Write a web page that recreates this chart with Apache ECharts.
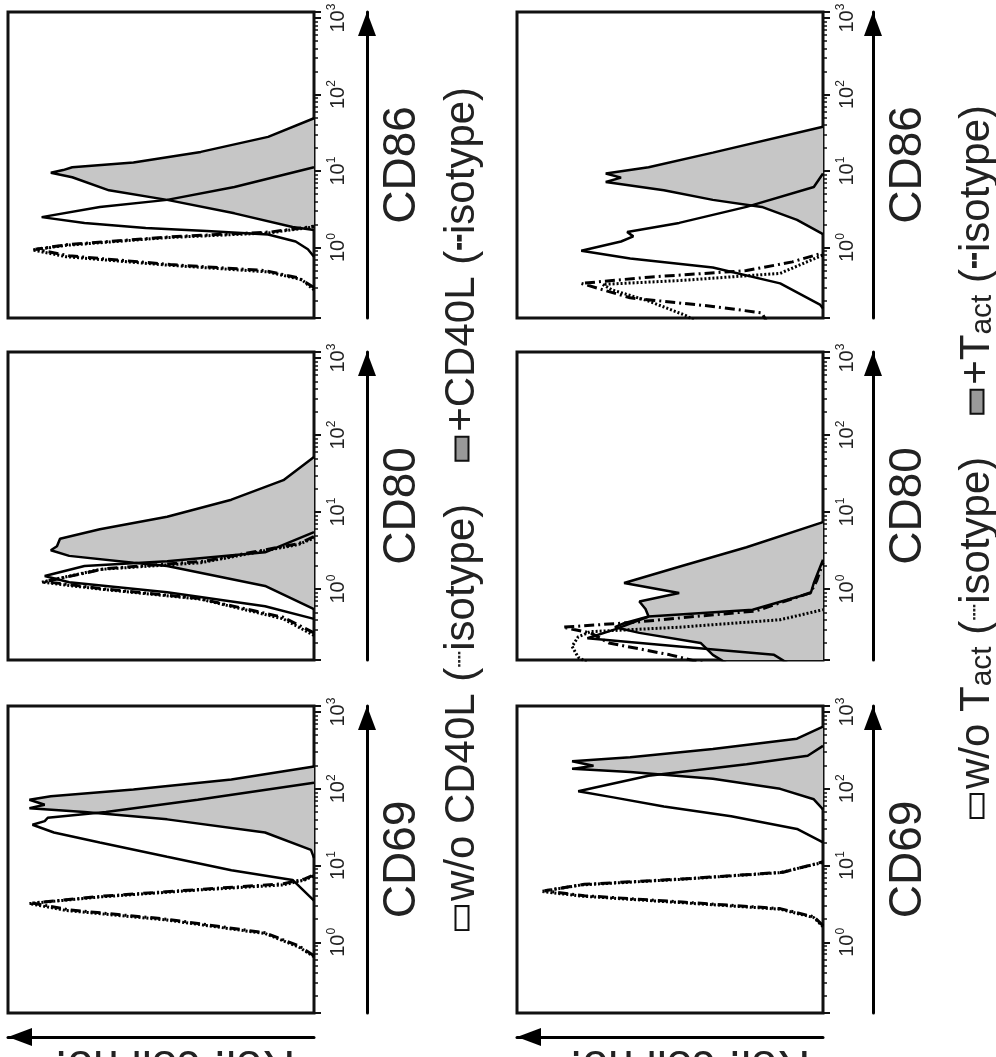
<!DOCTYPE html>
<html>
<head>
<meta charset="utf-8">
<script src="https://cdn.jsdelivr.net/npm/echarts@6/dist/echarts.min.js"></script>
<style>
html,body{margin:0;padding:0;background:#fff;}
#chart{width:996px;height:1057px;}
</style>
</head>
<body>
<div id="chart"></div>
<script>
// ---------------- DATA ----------------
const markers = ['CD86', 'CD80', 'CD69'];
const fluorMin = 0.12;
const fluorMax = 1200;
const tickExponents = [0, 1, 2, 3];
const countMax = 100;
const countAxisName = 'Rel. cell no.';

// Each histogram: [fluorescence intensity, relative cell number]
const cd86_woCD40L      = [[0.76,0],[0.95,2],[1.2,6],[1.48,15],[1.65,35],[1.8,55],[2.1,75],[2.5,89],[3.4,70],[4.2,48],[6.2,26],[11.2,0]];
const cd86_CD40L        = [[1.7,0],[1.86,7],[2.8,26],[4.2,48],[5.6,67],[8.3,79],[9.5,86],[10.3,82],[11.2,79],[12.9,59],[17.8,37],[28,15],[49,0]];
const cd86_isoWoCD40L   = [[0.28,0],[0.38,4],[0.48,15],[0.59,48],[0.76,81],[0.93,92],[1.07,81],[1.35,48],[1.55,15],[1.86,0]];
const cd86_isoCD40L     = [[0.3,0],[0.4,5],[0.5,16],[0.6,47],[0.78,80],[0.95,91],[1.1,80],[1.38,47],[1.6,14],[1.9,0]];

const cd80_woCD40L      = [[0.41,0],[0.6,16],[0.91,48],[1.23,80],[1.48,88],[2.0,75],[2.3,48],[3.0,16],[5.5,0]];
const cd80_CD40L        = [[0.55,0],[1.1,16],[2.0,48],[2.2,59],[2.7,80],[3.2,86],[3.6,84],[4.5,83],[6.0,70],[8.7,48],[14.5,27],[26,10],[52,0]];
const cd80_isoWoCD40L   = [[0.25,0],[0.41,10],[0.74,37],[1.0,70],[1.23,89],[1.8,70],[2.2,37],[3.8,5],[4.6,0]];
const cd80_isoCD40L     = [[0.27,0],[0.43,10],[0.76,38],[1.02,70],[1.25,88],[1.85,68],[2.3,36],[3.9,5],[4.8,0]];

const cd69_woCD40L      = [[3.5,0],[6.5,7],[8.7,27],[13,48],[20,70],[27,85],[34,92],[38,88],[42,87],[50,68],[72,38],[120,0]];
const cd69_CD40L        = [[12.6,0],[16,1],[27,16],[40,48],[50,75],[56,93],[62,88],[72,93],[80,86],[98,59],[132,27],[195,0]];
const cd69_isoWoCD40L   = [[0.65,0],[0.87,5],[1.3,16],[1.95,48],[2.6,81],[3.2,93],[3.9,70],[4.8,38],[5.6,10],[6.5,3],[7.4,0]];
const cd69_isoCD40L     = [[0.67,0],[0.9,5],[1.33,16],[2.0,48],[2.65,80],[3.25,92],[4.0,69],[4.9,37],[5.8,10],[6.7,3],[7.6,0]];

const cd86_woTact       = [[0.16,0],[0.18,1],[0.34,14],[0.55,36],[0.72,63],[0.91,79],[1.2,66],[1.4,62],[1.6,64],[2.1,47],[3.4,25],[6.2,3],[9.3,0]];
const cd86_Tact         = [[1.5,0],[2.3,8.5],[3.4,20],[4.2,36],[5.6,52],[7.2,71],[8.2,66],[9.3,71],[11.2,57],[17.4,36],[38,0]];
const cd86_isoWoTact    = [[0.1,40],[0.13,45],[0.2,57],[0.28,69],[0.33,72],[0.37,47],[0.46,14],[0.8,0]];
const cd86_isoTact      = [[0.1,18],[0.14,20],[0.17,36],[0.22,63],[0.34,79],[0.41,57],[0.5,25],[0.65,10],[0.83,1],[0.85,0]];

const cd80_woTact       = [[0.1,10],[0.14,16],[0.18,47],[0.23,77],[0.3,68],[0.44,57],[0.54,23],[0.89,4],[1.2,3],[2.4,0]];
const cd80_Tact         = [[0.1,0],[0.1,30],[0.14,36],[0.2,40],[0.27,60],[0.32,68],[0.36,65],[0.44,57],[0.55,58],[0.69,60],[0.89,47],[1.2,65],[1.95,47],[3.5,25],[7.4,0]];
const cd80_isoWoTact    = [[0.1,75],[0.13,80],[0.18,82],[0.24,80],[0.28,76],[0.32,47],[0.4,14],[0.54,0]];
const cd80_isoTact      = [[0.1,35],[0.14,50],[0.2,70],[0.27,76],[0.32,85],[0.37,62],[0.44,42],[0.52,22],[0.9,4],[1.3,2],[2.2,0]];

const cd69_woTact       = [[20,0],[30,8.5],[44,30],[59,52],[78,69],[93,80],[148,57],[209,25],[270,5],[363,0]];
const cd69_Tact         = [[54,0],[73,3],[100,14],[135,36],[166,63],[182,82],[200,75],[229,82],[257,63],[330,36],[450,8.5],[645,0]];
const cd69_isoWoTact    = [[1.6,0],[2.1,3],[2.7,14],[3.3,47],[4.0,79],[4.6,92],[5.6,79],[6.6,47],[8.1,14],[11,0]];
const cd69_isoTact      = [[1.65,0],[2.15,3],[2.75,14],[3.35,46],[4.05,78],[4.7,91],[5.7,78],[6.7,46],[8.2,13],[11.2,0]];

// ---------------- LAYOUT / STYLE ----------------
const FONT = "'Liberation Sans', Arial, Helvetica, sans-serif";
const GRAY_FILL = '#c6c6c6';
const cols = [
  {left: 8,   width: 306, arrowOffset: 53, nameX: 175, legendX: 462, legendY: 508},
  {left: 517, width: 306, arrowOffset: 50, nameX: 690, legendX: 977, legendY: 461}
];
const rows = [
  {top: 12,  height: 306},
  {top: 352, height: 308},
  {top: 706, height: 307}
];
const panelData = [
  [cd86_woCD40L, cd86_CD40L, cd86_isoWoCD40L, cd86_isoCD40L],
  [cd80_woCD40L, cd80_CD40L, cd80_isoWoCD40L, cd80_isoCD40L],
  [cd69_woCD40L, cd69_CD40L, cd69_isoWoCD40L, cd69_isoCD40L],
  [cd86_woTact, cd86_Tact, cd86_isoWoTact, cd86_isoTact],
  [cd80_woTact, cd80_Tact, cd80_isoWoTact, cd80_isoTact],
  [cd69_woTact, cd69_Tact, cd69_isoWoTact, cd69_isoTact]
];

const panels = [];
for (let c = 0; c < 2; c++) {
  for (let r = 0; r < 3; r++) {
    const d = panelData[c * 3 + r];
    panels.push({
      col: c, row: r, marker: markers[r],
      wo: d[0], plus: d[1], isoWo: d[2], isoPlus: d[3],
      left: cols[c].left, width: cols[c].width, arrowOffset: cols[c].arrowOffset,
      top: rows[r].top, height: rows[r].height,
      bottom: r === 2
    });
  }
}

function tickLabel(v) {
  const e = Math.log10(v);
  const n = Math.round(e);
  if (Math.abs(e - n) > 0.01 || tickExponents.indexOf(n) < 0) return '';
  return '{b|10}{s|' + n + '}';
}

const vArrowLine = {
  show: true,
  symbol: ['none', 'triangle'],
  symbolSize: [18, 24],
  symbolOffset: [0, -12],
  lineStyle: {color: '#000', width: 3}
};
const hArrowLine = {
  show: true,
  symbol: ['triangle', 'none'],
  symbolSize: [18, 24],
  symbolOffset: [12, 0],
  lineStyle: {color: '#000', width: 3}
};

const grids = panels.map(p => ({
  left: p.left, top: p.top, width: p.width, height: p.height,
  show: true, borderColor: '#111', borderWidth: 3,
  backgroundColor: 'rgba(0,0,0,0)', containLabel: false, outerBoundsMode: 'none'
}));

const xAxes = panels.map((p, i) => ({
  gridIndex: i, type: 'value', min: 0, max: countMax, inverse: true,
  show: p.bottom, position: 'bottom', offset: 24,
  axisLine: hArrowLine,
  axisTick: {show: false}, axisLabel: {show: false}, splitLine: {show: false}
}));

const yAxes = [];
panels.forEach((p, i) => {
  yAxes.push({
    gridIndex: i, type: 'log', logBase: 10, min: fluorMin, max: fluorMax,
    position: 'right',
    axisLine: {show: false},
    axisTick: {show: true, inside: false, length: 7, lineStyle: {color: '#111', width: 2}},
    minorTick: {show: true, splitNumber: 9, length: 4, lineStyle: {color: '#111', width: 1.5}},
    splitLine: {show: false},
    axisLabel: {
      show: true, rotate: 90, margin: 12, formatter: tickLabel,
      rich: {
        b: {fontSize: 20, fontFamily: FONT, color: '#222', lineHeight: 24},
        s: {fontSize: 12, fontFamily: FONT, color: '#222', verticalAlign: 'top', lineHeight: 24}
      }
    }
  });
  yAxes.push({
    gridIndex: i, type: 'log', logBase: 10, min: fluorMin, max: fluorMax,
    position: 'right', offset: p.arrowOffset,
    axisLine: vArrowLine,
    axisTick: {show: false}, axisLabel: {show: false}, splitLine: {show: false},
    name: p.marker, nameLocation: 'middle', nameRotate: 90, nameGap: 12,
    nameTextStyle: {fontSize: 46, color: '#222', fontFamily: FONT}
  });
});

function histLine(points, i, type, width) {
  return {
    type: 'line', xAxisIndex: i, yAxisIndex: 2 * i,
    data: points.map(d => [d[1], d[0]]),
    showSymbol: false, symbol: 'none', smooth: false,
    lineStyle: {color: '#000', width: width, type: type},
    clip: true, z: 3, silent: true, animation: false
  };
}

const series = [];
panels.forEach((p, i) => {
  series.push({
    type: 'custom', xAxisIndex: i, yAxisIndex: 2 * i,
    data: p.plus.map(d => [d[1], d[0]]),
    renderItem: function (params, api) {
      if (params.dataIndex !== 0) return null;
      const pts = p.plus.map(d => api.coord([d[1], d[0]]));
      return {type: 'polygon', shape: {points: pts}, style: {fill: GRAY_FILL, stroke: null}};
    },
    clip: true, silent: true, z: 1, animation: false
  });
  series.push(histLine(p.plus, i, 'solid', 2.5));
  series.push(histLine(p.wo, i, 'solid', 2.5));
  series.push(histLine(p.isoWo, i, [2, 2], 3));
  series.push(histLine(p.isoPlus, i, [10, 4, 2, 4], 3));
});

const LF = 42;
const legendRich = {
  t: {fontSize: LF, fontFamily: FONT, color: '#222'},
  sub: {fontSize: 30, fontFamily: FONT, color: '#222', verticalAlign: 'bottom'},
  wbox: {width: 22, height: 11, backgroundColor: '#fff', borderColor: '#111', borderWidth: 2},
  gbox: {width: 22, height: 11, backgroundColor: '#999', borderColor: '#111', borderWidth: 2},
  sp: {width: 6},
  gap: {width: 44},
  dot: {fontSize: 28, fontFamily: "'DejaVu Sans'", color: '#222'},
  dash: {fontSize: 28, fontFamily: "'DejaVu Sans'", color: '#222'}
};
const legendTexts = [
  '{wbox| }{sp| }{t|w/o CD40L (}{dot|┈}{t|isotype)}{gap| }{gbox| }{sp| }{t|+CD40L (}{dash|╍}{t|isotype)}',
  '{wbox| }{sp| }{t|w/o T}{sub|act}{t| (}{dot|┈}{t|isotype)}{gap| }{gbox| }{sp| }{t|+T}{sub|act}{t| (}{dash|╍}{t|isotype)}'
];

const graphics = [];
cols.forEach((c, ci) => {
  graphics.push({type: 'text', x: c.legendX, y: c.legendY, rotation: Math.PI / 2,
    style: {text: legendTexts[ci], rich: legendRich, align: 'center', verticalAlign: 'middle',
            fontSize: LF, fontFamily: FONT, fill: '#222'}});
  graphics.push({type: 'text', x: c.nameX, y: 1064, rotation: Math.PI,
    style: {text: countAxisName, align: 'center', verticalAlign: 'middle',
            fontSize: 46, fontFamily: FONT, fill: '#222'}});
});

const option = {
  backgroundColor: '#fff',
  animation: false,
  grid: grids,
  xAxis: xAxes,
  yAxis: yAxes,
  series: series,
  graphic: graphics
};

const chart = echarts.init(document.getElementById('chart'), null, {renderer: 'canvas'});
chart.setOption(option);
</script>
</body>
</html>
